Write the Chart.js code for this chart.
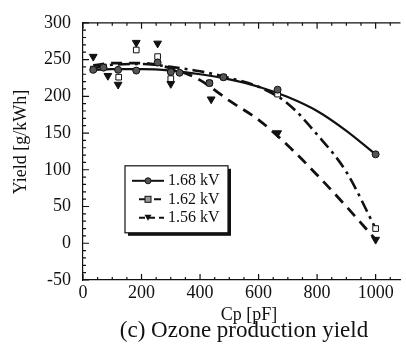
<!DOCTYPE html>
<html>
<head>
<meta charset="utf-8">
<script src="https://cdn.jsdelivr.net/npm/chart.js@4/dist/chart.umd.min.js"></script>
<style>
  body { margin: 0; background: #fff; }
  canvas { display: block; }
</style>
</head>
<body>
<canvas id="chart" width="406" height="348"></canvas>
<script>
// measured points (Cp in pF, yield in g/kWh)
var cp168 = [35, 70, 120, 182, 255, 300, 330, 432, 480, 665, 1000];
var y168  = [236, 239, 236, 235, 246, 233, 232, 218, 226, 209, 121];
var cp162 = [35, 70, 122, 182, 255, 300, 432, 480, 665, 1000];
var y162  = [237, 240, 226, 263, 254, 224, 218, 226, 203, 20];
var cp156 = [35, 85, 120, 182, 255, 300, 438, 665, 1000];
var y156  = [254, 228, 216, 273, 272, 217, 196, 150, 5];

// fitted curves
var fitCp   = [35, 100, 200, 300, 400, 500, 600, 700, 800, 900, 1000];
var fit168  = [236, 237, 237, 235, 230, 223, 213, 199, 180, 153, 121];
var fit162  = [238, 243, 244, 240, 234, 225, 213, 190, 148, 97, 20];
var fit156  = [242, 245, 245, 238, 222, 194, 168, 133, 93, 50, 5];

var xTicks = [0, 200, 400, 600, 800, 1000];
var yTicks = [-50, 0, 50, 100, 150, 200, 250, 300];
var seriesNames = ['1.68 kV', '1.62 kV', '1.56 kV'];

function pts(xs, ys) {
  var out = [];
  for (var i in xs) out.push({x: xs[i], y: ys[i]});
  return out;
}

var serif = 'Liberation Serif';

var decorations = {
  id: 'decorations',
  afterDraw: function(chart) {
    var ctx = chart.ctx;
    var a = chart.chartArea;
    var xs = chart.scales.x, ys = chart.scales.y;
    ctx.save();
    ctx.strokeStyle = '#111';
    ctx.lineWidth = 1.2;
    // top frame
    ctx.beginPath();
    ctx.moveTo(a.left, a.top); ctx.lineTo(a.right, a.top);
    ctx.stroke();
    // inward ticks on x (bottom and top)
    ctx.beginPath();
    for (var v = 0; v <= 1080; v += 50) {
      var px = xs.getPixelForValue(v);
      var len = (v % 200 === 0) ? 6 : 3;
      ctx.moveTo(px, a.bottom); ctx.lineTo(px, a.bottom - len);
      ctx.moveTo(px, a.top); ctx.lineTo(px, a.top + len);
    }
    // inward ticks on y
    for (var w = -50; w <= 300; w += 10) {
      var py = ys.getPixelForValue(w);
      var l2 = (w % 50 === 0) ? 6 : 3;
      ctx.moveTo(a.left, py); ctx.lineTo(a.left + l2, py);
    }
    ctx.stroke();

    // legend box
    var bx = a.left + 42, by = a.top + 143, bw = 103, bh = 67;
    ctx.fillStyle = '#111';
    ctx.fillRect(bx + 3, by + 3, bw, bh);
    ctx.fillStyle = '#fff';
    ctx.fillRect(bx, by, bw, bh);
    ctx.lineWidth = 1.2;
    ctx.strokeRect(bx, by, bw, bh);
    var rows = [
      {dash: [], x0: 7, style: 'circle'},
      {dash: [7, 3, 2, 3], x0: 14, style: 'rect'},
      {dash: [6, 4], x0: 14, style: 'triangle'}
    ];
    ctx.font = '16px "' + serif + '"';
    ctx.textBaseline = 'middle';
    for (var r = 0; r < 3; r++) {
      var ry = by + 15 + r * 18.5;
      ctx.lineWidth = 2;
      ctx.strokeStyle = '#111';
      ctx.setLineDash(rows[r].dash);
      ctx.beginPath();
      ctx.moveTo(bx + rows[r].x0, ry); ctx.lineTo(bx + 39, ry);
      ctx.stroke();
      ctx.setLineDash([]);
      var mx = bx + 23;
      ctx.lineWidth = 1;
      if (rows[r].style === 'circle') {
        ctx.fillStyle = '#555';
        ctx.beginPath(); ctx.arc(mx, ry, 3, 0, Math.PI * 2); ctx.fill(); ctx.stroke();
      } else if (rows[r].style === 'rect') {
        ctx.fillStyle = '#999';
        ctx.fillRect(mx - 3, ry - 3, 6, 6); ctx.strokeRect(mx - 3, ry - 3, 6, 6);
      } else {
        ctx.fillStyle = '#111';
        ctx.beginPath(); ctx.moveTo(mx - 3.5, ry - 3); ctx.lineTo(mx + 3.5, ry - 3); ctx.lineTo(mx, ry + 3); ctx.fill();
      }
      ctx.fillStyle = '#111';
      ctx.textAlign = 'left';
      ctx.fillText(seriesNames[r], bx + 43, ry);
    }

    // axis titles and caption
    ctx.fillStyle = '#111';
    ctx.textAlign = 'center';
    ctx.textBaseline = 'alphabetic';
    ctx.font = '18px "' + serif + '"';
    ctx.fillText('Cp [pF]', 249, 320);
    ctx.font = '23px "' + serif + '"';
    ctx.fillText('(c) Ozone production yield', 244, 337);
    ctx.save();
    ctx.translate(21, 142);
    ctx.rotate(-Math.PI / 2);
    ctx.font = '18px "' + serif + '"';
    ctx.textBaseline = 'middle';
    ctx.fillText('Yield [g/kWh]', 0, 0);
    ctx.restore();
    ctx.restore();
  }
};

var ctx = document.getElementById('chart');

var chart = new Chart(ctx, {
  type: 'scatter',
  data: {
    datasets: [
      {label: seriesNames[0], data: pts(cp168, y168), showLine: false, order: 0,
       pointStyle: 'circle', pointRadius: 3.5, backgroundColor: '#555', borderColor: '#111', borderWidth: 1},
      {label: seriesNames[1], data: pts(cp162, y162), showLine: false, order: 0,
       pointStyle: 'rect', pointRadius: 4, backgroundColor: '#fff', borderColor: '#111', borderWidth: 1},
      {label: seriesNames[2], data: pts(cp156, y156), showLine: false, order: 0,
       pointStyle: 'triangle', rotation: 180, pointRadius: 4.5, backgroundColor: '#111', borderColor: '#111', borderWidth: 1},
      {label: 'fit 1.68', data: pts(fitCp, fit168), showLine: true, pointRadius: 0, order: 1,
       borderColor: '#111', borderWidth: 2.2, cubicInterpolationMode: 'monotone'},
      {label: 'fit 1.62', data: pts(fitCp, fit162), showLine: true, pointRadius: 0, order: 1,
       borderColor: '#111', borderWidth: 2.6, borderDash: [12, 5, 3, 5], cubicInterpolationMode: 'monotone'},
      {label: 'fit 1.56', data: pts(fitCp, fit156), showLine: true, pointRadius: 0, order: 1,
       borderColor: '#111', borderWidth: 2.8, borderDash: [11, 7], cubicInterpolationMode: 'monotone'}
    ]
  },
  options: {
    responsive: false,
    animation: false,
    layout: {padding: {left: 0, right: 1, top: 16, bottom: 0}},
    plugins: {legend: {display: false}, tooltip: {enabled: false}},
    scales: {
      x: {
        type: 'linear', min: 0, max: 1085,
        grid: {display: false, drawTicks: false},
        border: {display: true, color: '#111', width: 1.2},
        afterFit: function(s) { s.height = 68; },
        afterBuildTicks: function(s) { s.ticks = xTicks.map(function(v) { return {value: v}; }); },
        ticks: {color: '#111', padding: 2, maxRotation: 0, font: {family: serif, size: 18},
                callback: function(v) { return String(v); }}
      },
      y: {
        type: 'linear', min: -50, max: 300,
        grid: {display: false, drawTicks: false},
        border: {display: true, color: '#111', width: 1.2},
        afterFit: function(s) { s.width = 83; },
        afterBuildTicks: function(s) { s.ticks = yTicks.map(function(v) { return {value: v}; }); },
        ticks: {color: '#111', padding: 12, font: {family: serif, size: 18},
                callback: function(v) { return String(v); }}
      }
    }
  },
  plugins: [decorations]
});
</script>
</body>
</html>
